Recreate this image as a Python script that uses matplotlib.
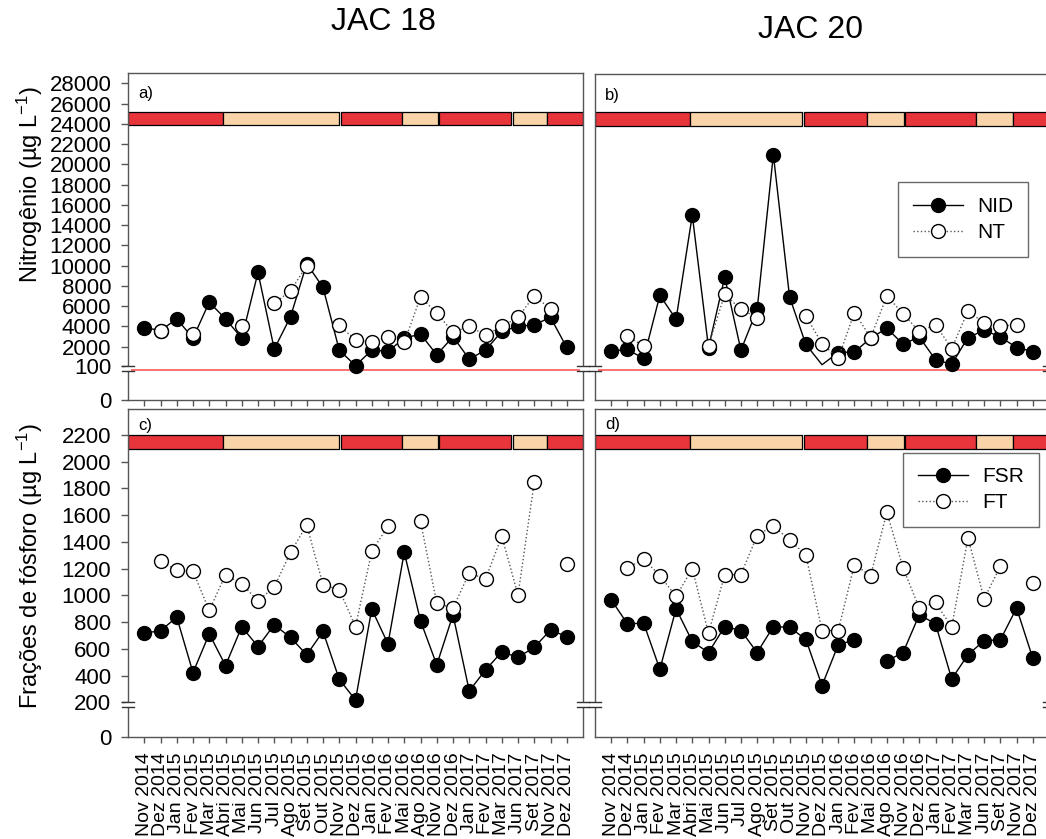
import numpy as np
import matplotlib
matplotlib.use('Agg')
import matplotlib.pyplot as plt
from matplotlib.lines import Line2D
from matplotlib.patches import Rectangle

plt.rcParams['font.family'] = ['Liberation Sans', 'DejaVu Sans']
plt.rcParams['mathtext.fontset'] = 'custom'
plt.rcParams['mathtext.rm'] = 'Liberation Sans'
plt.rcParams['mathtext.default'] = 'regular'

nan = np.nan

months = ["Nov 2014", "Dez 2014", "Jan 2015", "Fev 2015", "Mar 2015", "Abri 2015",
          "Mai 2015", "Jun 2015", "Jul 2015", "Ago 2015", "Set 2015", "Out 2015",
          "Nov 2015", "Dez 2015", "Jan 2016", "Fev 2016", "Mai 2016", "Ago 2016",
          "Nov 2016", "Dez 2016", "Jan 2017", "Fev 2017", "Mar 2017", "Jun 2017",
          "Set 2017", "Nov 2017", "Dez 2017"]

# nitrogen (ug/L)
jac18_nid = [3900, 3600, 4750, 2850, 6400, 4750, 2850, 9340, 1770, 4960, 10200, 7860, 1670, 130,
             1670, 1540, 2850, 3250, 1210, 2990, 780, 1670, 3510, 4010, 4170, 4900, 1930]
jac18_nt = [nan, 3600, nan, 3250, nan, nan, 4040, nan, 6280, 7530, 10000, nan, 4100, 2660,
            2430, 2990, 2430, 6900, 5330, 3420, 4010, 3150, 4010, 4900, 7040, 5720, nan]
jac20_nid = [1600, 1740, 850, 7100, 4735, 15030, 1930, 8900, 1670, 5700, 21020, 6935, 2260, 230,
             1440, 1500, 2850, 3850, 2260, 2990, 720, 290, 2920, 3645, 2990, 1930, 1540]
jac20_nid_no_marker = [13]
jac20_nt = [nan, 3050, 2100, nan, nan, nan, 2100, 7200, 5700, 4900, nan, nan, 5060, 2330,
            850, 5400, 2920, 7040, 5290, 3500, 4200, 1835, 5555, 4370, 4040, 4200, nan]

# phosphorus (ug/L)
jac18_fsr = [718, 735, 837, 422, 712, 475, 765, 617, 780, 685, 555, 730, 372, 217,
             897, 637, 1322, 810, 480, 855, 285, 442, 577, 537, 611, 741, 691]
jac18_ft = [nan, 1255, 1187, 1180, 887, 1155, 1085, 960, 1062, 1322, 1525, 1080, 1042, 767,
            1330, 1517, nan, 1555, 942, 905, 1167, 1122, 1442, 1003, 1846, nan, 1235]
jac20_fsr = [967, 787, 792, 447, 900, 655, 572, 767, 737, 572, 767, 760, 672, 325,
             630, 667, nan, 510, 572, 855, 787, 375, 555, 662, 667, 905, 530]
jac20_ft = [nan, 1205, 1272, 1147, 992, 1200, 717, 1155, 1155, 1447, 1522, 1412, 1305, 737,
            737, 1230, 1147, 1622, 1205, 905, 947, 762, 1430, 975, 1217, nan, 1092]

# seasons (chuvoso / seco) as spans on the month index axis
season_kind = ['chuvoso', 'seco', 'chuvoso', 'seco', 'chuvoso', 'seco', 'chuvoso']
jac18_seasons = [(-1, 4.87), (4.87, 12.0), (12.12, 15.85), (15.85, 18.05),
                 (18.13, 22.58), (22.68, 24.8), (24.8, 27)]
jac20_seasons = [(-1, 4.85), (4.85, 11.78), (11.86, 15.8), (15.8, 18.05),
                 (18.12, 22.5), (22.5, 24.8), (24.8, 27)]
season_colors = {'chuvoso': '#e8353b', 'seco': '#f8d4a8'}

x = np.arange(len(months))
W, H = 1046, 839
GREY = '#555555'

fig = plt.figure(figsize=(W / 100, H / 100), dpi=100)


def add_ax(left, top, right, bottom):
    return fig.add_axes([left / W, 1 - bottom / H, (right - left) / W, (bottom - top) / H])


def broken_scale(brk, lo, k):
    def fwd(y):
        y = np.asarray(y, dtype=float)
        return np.where(y < brk, y * lo / brk, lo + (y - brk) * k)

    def inv(p):
        p = np.asarray(p, dtype=float)
        return np.where(p < lo, p * brk / lo, brk + (p - lo) / k)
    return fwd, inv


def axis_break(ax, y_hi, y_lo):
    tr = ax.get_yaxis_transform()
    for xs in (0, 1):
        ax.add_patch(Rectangle((xs - 0.006, y_lo), 0.012, y_hi - y_lo, transform=tr,
                               fc='white', ec='none', clip_on=False, zorder=5))
        for yy in (y_lo, y_hi):
            ax.plot([xs - 0.013, xs + 0.013], [yy, yy], transform=tr, color='#333333',
                    lw=1, clip_on=False, zorder=6)


def setup(ax, scale, ylim, yticks, show_y, show_x, letter, letter_y):
    ax.set_yscale('function', functions=scale)
    ax.set_ylim(*ylim)
    ax.set_xlim(-1, 27)
    ax.set_xticks(x)
    if show_x:
        ax.set_xticklabels(months, rotation=90, fontsize=14)
    else:
        ax.set_xticklabels([])
    ax.set_yticks(yticks)
    ax.set_yticklabels([str(v) for v in yticks])
    ax.tick_params(axis='y', direction='out', length=5, width=1, color=GREY,
                   labelsize=16, pad=7, left=show_y, labelleft=show_y)
    ax.tick_params(axis='x', direction='out', length=4, width=1, color=GREY, pad=7)
    ax.minorticks_off()
    for s in ax.spines.values():
        s.set_color(GREY)
        s.set_linewidth(1)
    ax.text(0.022, letter_y, letter, transform=ax.transAxes, fontsize=12, va='center')


def seasons(ax, spans, y0, y1):
    ax.broken_barh([(a, b - a) for a, b in spans], (y0, y1 - y0),
                   facecolors=[season_colors[k] for k in season_kind],
                   edgecolor='black', linewidth=0.9, zorder=2)


def series(ax, solid, dotted, no_marker=()):
    keep = [i for i in range(len(solid)) if i not in no_marker]
    ax.plot(x, solid, '-', color='black', lw=1, marker='o', ms=10, mfc='black',
            mec='black', markevery=keep, zorder=3, clip_on=False)
    ax.plot(x, dotted, ':', color=GREY, lw=1, marker='o', ms=10, mfc='white',
            mec='black', mew=1, zorder=4, clip_on=False)


def legend(ax, labels, anchor):
    handles = [Line2D([], [], ls='-', color='black', lw=1, marker='o', ms=10,
                      mfc='black', mec='black'),
               Line2D([], [], ls=':', color=GREY, lw=1, marker='o', ms=10,
                      mfc='white', mec='black')]
    lg = ax.legend(handles, labels, loc='upper left', bbox_to_anchor=anchor,
                   fontsize=15, frameon=True, fancybox=False, borderaxespad=0,
                   handlelength=2.4, borderpad=0.7, labelspacing=0.35,
                   handletextpad=0.7)
    lg.get_frame().set_edgecolor('#444444')
    lg.get_frame().set_linewidth(1)


n_scale = broken_scale(100, 34, 0.010127)
p_scale = broken_scale(200, 35, 0.13367)
n_ticks = [0, 100] + list(range(2000, 28001, 2000))
p_ticks = [0] + list(range(200, 2201, 200))

ax_a = add_ax(128, 73.3, 583, 400)
ax_b = add_ax(595, 74, 1049, 400)
ax_c = add_ax(128, 409.3, 583, 737.3)
ax_d = add_ax(595, 409.3, 1049, 737.3)

setup(ax_a, n_scale, (0, 29000), n_ticks, True, False, 'a)', 0.937)
setup(ax_b, n_scale, (0, 29000), n_ticks, False, False, 'b)', 0.935)
setup(ax_c, p_scale, (0, 2392), p_ticks, True, True, 'c)', 0.952)
setup(ax_d, p_scale, (0, 2392), p_ticks, False, True, 'd)', 0.954)

seasons(ax_a, jac18_seasons, 23900, 25200)
seasons(ax_b, jac20_seasons, 23900, 25200)
seasons(ax_c, jac18_seasons, 2095, 2203)
seasons(ax_d, jac20_seasons, 2095, 2203)

for ax in (ax_a, ax_b):
    ax.axhline(88, color='#ff4a4a', lw=1.1, zorder=2)
    axis_break(ax, 100, 85)
for ax in (ax_c, ax_d):
    axis_break(ax, 200, 172)

series(ax_a, jac18_nid, jac18_nt)
series(ax_b, jac20_nid, jac20_nt, jac20_nid_no_marker)
series(ax_c, jac18_fsr, jac18_ft)
series(ax_d, jac20_fsr, jac20_ft)

legend(ax_b, ['NID', 'NT'], (0.668, 0.668))
legend(ax_d, ['FSR', 'FT'], (0.679, 0.868))

fig.text(383 / W, 1 - 22 / H, 'JAC 18', fontsize=23, ha='center', va='center')
fig.text(810 / W, 1 - 30 / H, 'JAC 20', fontsize=23, ha='center', va='center')
fig.text(30 / W, 1 - 185 / H, 'Nitrogênio (µg L$^{-1}$)', rotation=90,
         ha='center', va='center', fontsize=17)
fig.text(30 / W, 1 - 566 / H, 'Frações de fósforo (µg L$^{-1}$)', rotation=90,
         ha='center', va='center', fontsize=17)

fig.savefig('out.png', dpi=100)
